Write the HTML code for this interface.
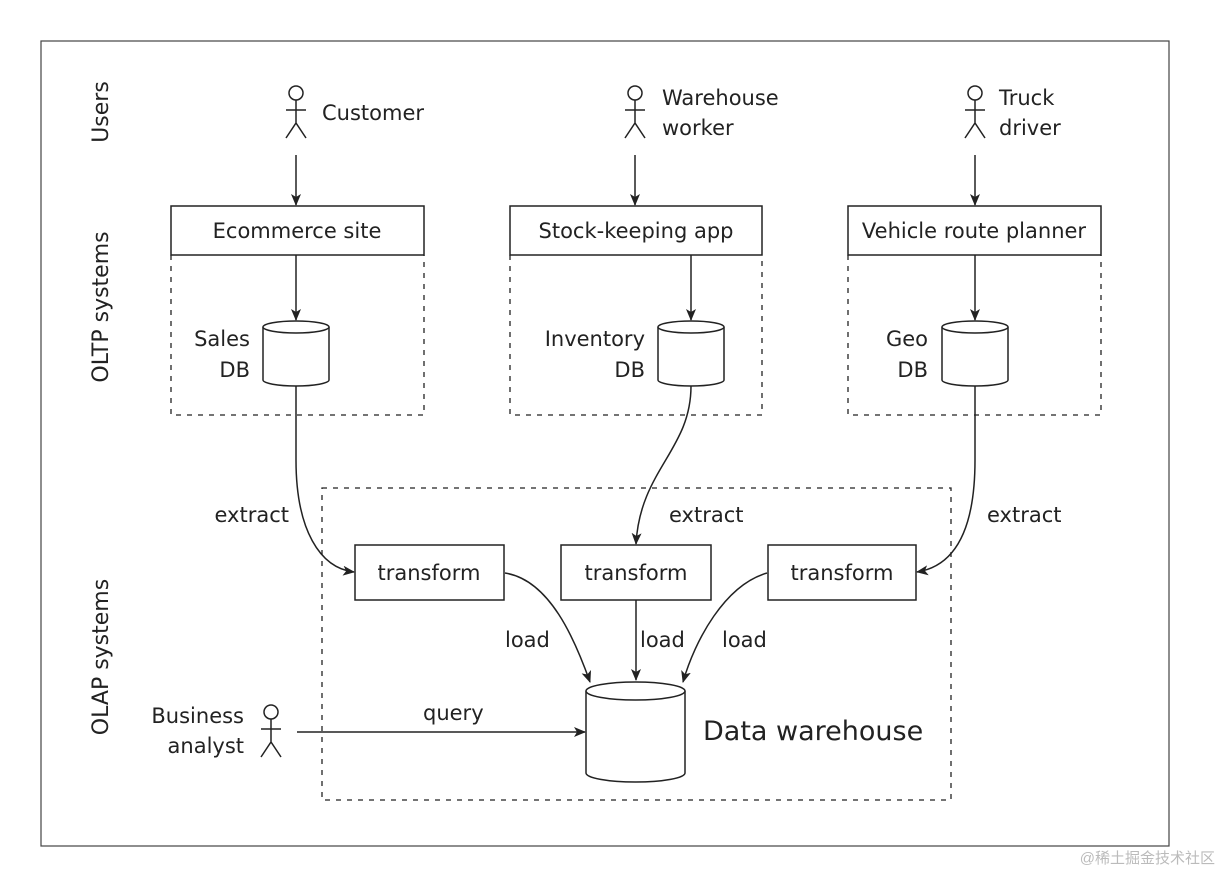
<!DOCTYPE html>
<html><head><meta charset="utf-8"><style>
html,body{margin:0;padding:0;background:#fff;}
text{font-family:"DejaVu Sans","Liberation Sans",sans-serif;fill:#222;}
</style></head><body>
<svg width="1224" height="873" viewBox="0 0 1224 873" xmlns="http://www.w3.org/2000/svg">
<defs>
<marker id="a" markerWidth="12" markerHeight="10" refX="11" refY="5" orient="auto" markerUnits="userSpaceOnUse">
<path d="M0,0 L12,5 L0,10 L3,5 Z" fill="#222"/></marker>
</defs>
<rect x="41" y="41" width="1128" height="805" fill="none" stroke="#444" stroke-width="1.2"/>
<g font-size="22">
<text transform="translate(108,112) rotate(-90)" text-anchor="middle">Users</text>
<text transform="translate(108,307) rotate(-90)" text-anchor="middle">OLTP systems</text>
<text transform="translate(108,657) rotate(-90)" text-anchor="middle">OLAP systems</text>
</g>
<g stroke="#222" stroke-width="1.5" fill="none">
<!-- actors -->
<g id="act"><circle cx="296" cy="93" r="7"/><path d="M296,100 V123 M286,110 H306 M286,138 L296,123 L306,138"/></g>
<g transform="translate(339,0)"><circle cx="296" cy="93" r="7"/><path d="M296,100 V123 M286,110 H306 M286,138 L296,123 L306,138"/></g>
<g transform="translate(679,0)"><circle cx="296" cy="93" r="7"/><path d="M296,100 V123 M286,110 H306 M286,138 L296,123 L306,138"/></g>
<g transform="translate(-25,619)"><circle cx="296" cy="93" r="7"/><path d="M296,100 V123 M286,110 H306 M286,138 L296,123 L306,138"/></g>
<!-- user arrows -->
<path d="M296,155 V205" marker-end="url(#a)"/>
<path d="M635,155 V205" marker-end="url(#a)"/>
<path d="M975,155 V205" marker-end="url(#a)"/>
<!-- boxes -->
<rect x="171" y="206" width="253" height="49"/>
<rect x="510" y="206" width="252" height="49"/>
<rect x="848" y="206" width="253" height="49"/>
<g stroke-dasharray="5,6" stroke-width="1.3">
<path d="M171,255 V415 H424 V255"/>
<path d="M510,255 V415 H762 V255"/>
<path d="M848,255 V415 H1101 V255"/>
<rect x="322" y="488" width="629" height="312"/>
</g>
<path d="M296,255 V320" marker-end="url(#a)"/>
<path d="M691,255 V320" marker-end="url(#a)"/>
<path d="M975,255 V320" marker-end="url(#a)"/>
<!-- cylinders -->
<g fill="#fff">
<path d="M263,327 V380 A33,6 0 0 0 329,380 V327"/><ellipse cx="296" cy="327" rx="33" ry="6"/>
<path d="M658,327 V380 A33,6 0 0 0 724,380 V327"/><ellipse cx="691" cy="327" rx="33" ry="6"/>
<path d="M942,327 V380 A33,6 0 0 0 1008,380 V327"/><ellipse cx="975" cy="327" rx="33" ry="6"/>
<path d="M586,691 V773 A49.5,9 0 0 0 685,773 V691"/><ellipse cx="635.5" cy="691" rx="49.5" ry="9"/>
</g>
<!-- extract curves -->
<path d="M296,386 V460 C296,530 320,568 354,572" marker-end="url(#a)"/>
<path d="M691,386 C691,450 640,470 636,544" marker-end="url(#a)"/>
<path d="M975,386 V460 C975,530 955,566 917,572" marker-end="url(#a)"/>
<!-- transform boxes -->
<rect x="355" y="545" width="149" height="55"/>
<rect x="561" y="545" width="150" height="55"/>
<rect x="768" y="545" width="148" height="55"/>
<!-- load -->
<path d="M505,573 C550,580 575,640 590,682" marker-end="url(#a)"/>
<path d="M636,600 V680" marker-end="url(#a)"/>
<path d="M767,573 C725,585 695,640 683,682" marker-end="url(#a)"/>
<path d="M297,732 H585" marker-end="url(#a)"/>
</g>
<g font-size="21">
<text x="322" y="120">Customer</text>
<text x="662" y="105">Warehouse</text><text x="662" y="135">worker</text>
<text x="999" y="105">Truck</text><text x="999" y="135">driver</text>
<text x="297" y="238" text-anchor="middle">Ecommerce site</text>
<text x="636" y="238" text-anchor="middle">Stock-keeping app</text>
<text x="974" y="238" text-anchor="middle">Vehicle route planner</text>
<text x="250" y="346" text-anchor="end">Sales</text><text x="250" y="377" text-anchor="end">DB</text>
<text x="645" y="346" text-anchor="end">Inventory</text><text x="645" y="377" text-anchor="end">DB</text>
<text x="928" y="346" text-anchor="end">Geo</text><text x="928" y="377" text-anchor="end">DB</text>
<text x="289" y="522" text-anchor="end">extract</text>
<text x="669" y="522">extract</text>
<text x="987" y="522">extract</text>
<text x="429" y="580" text-anchor="middle">transform</text>
<text x="636" y="580" text-anchor="middle">transform</text>
<text x="842" y="580" text-anchor="middle">transform</text>
<text x="505" y="647">load</text><text x="640" y="647">load</text><text x="722" y="647">load</text>
<text x="244" y="723" text-anchor="end">Business</text><text x="244" y="753" text-anchor="end">analyst</text>
<text x="423" y="720">query</text>
</g>
<text x="703" y="740" font-size="27">Data warehouse</text>
<text x="1215" y="863" font-size="15" text-anchor="end" style="fill:#bbb;font-family:'Liberation Sans','Noto Sans CJK SC',sans-serif">@稀土掘金技术社区</text>
</svg>
</body></html>
